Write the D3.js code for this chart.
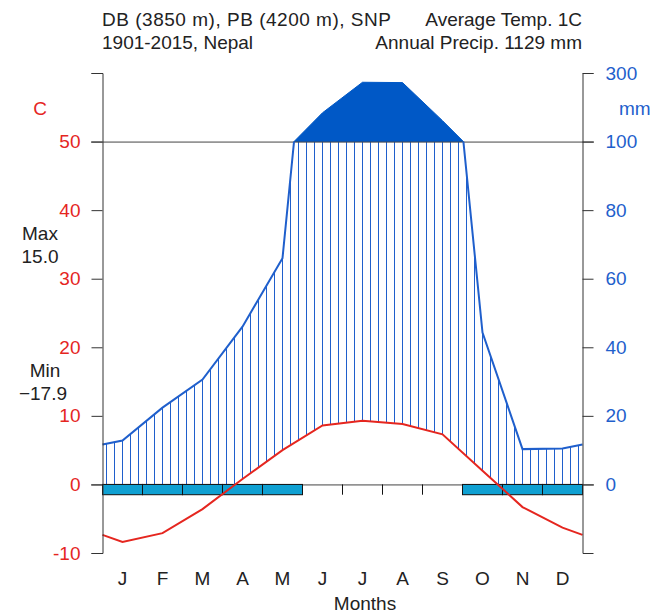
<!DOCTYPE html>
<html>
<head>
<meta charset="utf-8">
<script src="https://cdn.jsdelivr.net/npm/d3@7"></script>
<style>
  body { margin: 0; background: #fff; }
  svg { font-family: "Liberation Sans", Arial, sans-serif; }
</style>
</head>
<body>
<svg id="chart" width="662" height="615"></svg>
<script>
'use strict';

// monthly climate normals
var months = ['J', 'F', 'M', 'A', 'M', 'J', 'J', 'A', 'S', 'O', 'N', 'D'];
var temp = [-8.4, -7.1, -3.6, 0.8, 5.0, 8.6, 9.3, 8.8, 7.3, 2.0, -3.3, -6.3];
var precip = [12.8, 22.4, 30.6, 46, 66, 184, 273, 272, 161, 44.3, 10.3, 10.5];
var frost = [1, 1, 1, 1, 1, 0, 0, 0, 0, 1, 1, 1];
var leftTicks = [-10, 0, 10, 20, 30, 40, 50, 60];
var rightTicks = [0, 10, 20, 30, 40, 50, 60];
var rightLabels = ['0', '20', '40', '60', '80', '100', '300'];
var titleLeft = ['DB (3850 m), PB (4200 m), SNP', '1901-2015, Nepal'];
var titleRight = ['Average Temp. 1C', 'Annual Precip. 1129 mm'];

var RED = '#e5261f', BLUE = '#1f5fcc', DARK = '#0058c6', FROST = '#0fa0d2';

var svg = d3.select('#chart');

var x = d3.scaleLinear().domain([0, 12]).range([102.5, 582.5]);
var y = d3.scaleLinear().domain([-10, 60]).range([553, 73]);

// precip (mm) -> temperature units, compressed above 100 mm
function pT(p) { return p <= 100 ? p / 2 : 50 + (p - 100) / 20; }

// extend both series to the plot edges with the Dec/Jan mean
function extend(v) {
    var e = (v[0] + v[11]) / 2;
    return [e].concat(v, [e]);
}
var xs = [0].concat(months.map(function (d, i) { return i + 0.5; }), [12]);
var tExt = extend(temp);
var pExt = extend(precip);

function interp(arr, xv) {
    for (var i = 0; i < xs.length - 1; i++) {
        if (xv >= xs[i] && xv <= xs[i + 1]) {
            var f = (xv - xs[i]) / (xs[i + 1] - xs[i]);
            return arr[i] + f * (arr[i + 1] - arr[i]);
        }
    }
    return arr[arr.length - 1];
}

svg.append('clipPath').attr('id', 'below100')
  .append('rect').attr('x', 0).attr('y', y(50)).attr('width', 662).attr('height', 615);

// hatching for the humid period
var hatchX = d3.range(60).map(function (k) { return (4 + 8 * k) / 40; });
svg.append('g').selectAll('line')
    .data(hatchX)
  .enter().append('line')
    .attr('x1', function (d) { return x(d); })
    .attr('x2', function (d) { return x(d); })
    .attr('y1', function (d) { return y(Math.max(interp(tExt, d), 0)); })
    .attr('y2', function (d) { return y(Math.min(interp(pExt, d) / 2, 50)); })
    .attr('stroke', BLUE)
    .attr('stroke-width', 1);

// solid area above 100 mm
var poly = [];
for (var i = 0; i < xs.length - 1; i++) {
    var p0 = pExt[i], p1 = pExt[i + 1];
    if (p0 > 100) poly.push([xs[i], pT(p0)]);
    if ((p0 - 100) * (p1 - 100) < 0) {
        var f = (100 - p0) / (p1 - p0);
        poly.push([xs[i] + f * (xs[i + 1] - xs[i]), 50]);
    }
}
if (pExt[pExt.length - 1] > 100) poly.push([12, pT(pExt[pExt.length - 1])]);
svg.append('path')
    .attr('d', d3.line().x(function (d) { return x(d[0]); }).y(function (d) { return y(d[1]); })(poly) + 'Z')
    .attr('fill', DARK)
    .attr('stroke', DARK)
    .attr('stroke-width', 1);

// reference lines at 0 and 50 C
svg.append('g').selectAll('line')
    .data([0, 50])
  .enter().append('line')
    .attr('x1', 91).attr('x2', 594)
    .attr('y1', function (d) { return y(d) + 0.5; })
    .attr('y2', function (d) { return y(d) + 0.5; })
    .attr('stroke', '#444')
    .attr('stroke-width', 1);

// precipitation line (real scale, cut at 100 mm)
svg.append('path')
    .datum(pExt)
    .attr('clip-path', 'url(#below100)')
    .attr('d', d3.line().x(function (d, i) { return x(xs[i]); }).y(function (d) { return y(d / 2); }))
    .attr('fill', 'none')
    .attr('stroke', BLUE)
    .attr('stroke-width', 2);

// frost bar
svg.append('g').selectAll('rect')
    .data(frost.map(function (d, i) { return {f: d, i: i}; }).filter(function (d) { return d.f; }))
  .enter().append('rect')
    .attr('x', function (d) { return x(d.i); })
    .attr('y', y(0))
    .attr('width', x(1) - x(0))
    .attr('height', y(-1.5) - y(0))
    .attr('fill', FROST)
    .attr('stroke', '#111')
    .attr('stroke-width', 1);
svg.append('g').selectAll('line')
    .data(d3.range(1, 12).filter(function (i) { return !frost[i - 1] && !frost[i]; }))
  .enter().append('line')
    .attr('x1', function (d) { return x(d); }).attr('x2', function (d) { return x(d); })
    .attr('y1', y(0)).attr('y2', y(-1.5))
    .attr('stroke', '#111');

// temperature line
svg.append('path')
    .datum(tExt)
    .attr('d', d3.line().x(function (d, i) { return x(xs[i]); }).y(function (d) { return y(d); }))
    .attr('fill', 'none')
    .attr('stroke', RED)
    .attr('stroke-width', 2);

// axes
var left = svg.append('g').attr('transform', 'translate(102.5,0)')
    .call(d3.axisLeft(y).tickValues(leftTicks).tickSize(11).tickSizeOuter(11).tickPadding(11)
        .tickFormat(function (d) { return d === 60 ? '' : String(d); }));
var right = svg.append('g').attr('transform', 'translate(582.5,0)')
    .call(d3.axisRight(y).tickValues(rightTicks).tickSize(11).tickSizeOuter(11).tickPadding(12)
        .tickFormat(function (d, i) { return rightLabels[i]; }));
[left, right].forEach(function (g) {
    g.selectAll('path, line').attr('stroke', '#333').attr('stroke-width', 1);
    g.selectAll('text').attr('font-size', 19).attr('font-family', '"Liberation Sans", Arial, sans-serif');
});
left.selectAll('text').attr('fill', RED);
right.selectAll('text').attr('fill', BLUE);

svg.append('text').attr('x', 40).attr('y', 115).attr('text-anchor', 'middle')
    .attr('font-size', 19).attr('fill', RED).text('C');
svg.append('text').attr('x', 606).attr('y', 115).attr('dx', 13)
    .attr('font-size', 19).attr('fill', BLUE).text('mm');

// month labels
svg.append('g').selectAll('text')
    .data(months)
  .enter().append('text')
    .attr('x', function (d, i) { return x(i + 0.5); })
    .attr('y', 585)
    .attr('text-anchor', 'middle')
    .attr('font-size', 19)
    .attr('fill', '#222')
    .text(function (d) { return d; });
svg.append('text').attr('x', 365).attr('y', 610).attr('text-anchor', 'middle')
    .attr('font-size', 19).attr('fill', '#222').text('Months');

// headers
titleLeft.forEach(function (t, i) {
    var tx = svg.append('text').attr('x', 102).attr('y', 26 + i * 23)
        .attr('font-size', 19).attr('fill', '#222').text(t);
    if (i === 0) tx.attr('textLength', 289).attr('lengthAdjust', 'spacing');
});
titleRight.forEach(function (t, i) {
    svg.append('text').attr('x', 582).attr('y', 26 + i * 23).attr('text-anchor', 'end')
        .attr('font-size', 19).attr('fill', '#222').text(t);
});

// extremes
var ext = [['Max', 240, 40], ['15.0', 263, 40], ['Min', 377, 45], ['\u221217.9', 400, 43]];
ext.forEach(function (d) {
    svg.append('text').attr('x', d[2]).attr('y', d[1]).attr('text-anchor', 'middle')
        .attr('font-size', 19).attr('fill', '#222').text(d[0]);
});
</script>
</body>
</html>
